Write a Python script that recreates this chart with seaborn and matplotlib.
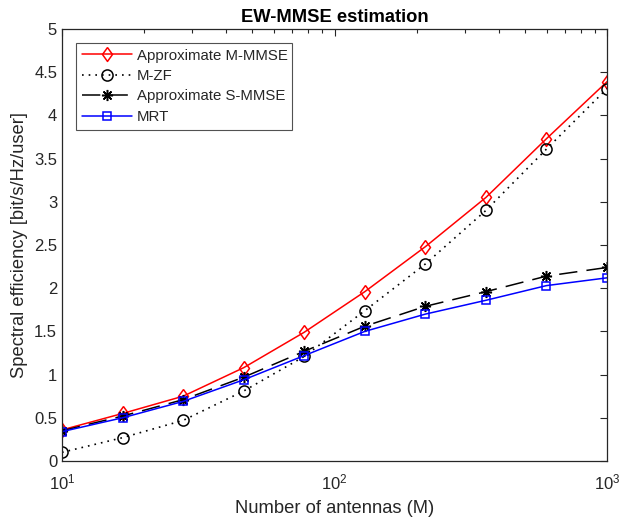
import numpy as np
import pandas as pd
import matplotlib
matplotlib.use("Agg")
import matplotlib.pyplot as plt
from matplotlib.ticker import LogLocator, FixedLocator, FuncFormatter
import seaborn as sns

# Number of BS antennas (log-spaced from 10 to 1000)
antennas = [10, 16.68, 27.83, 46.42, 77.43, 129.2, 215.4, 359.4, 599.5, 1000]

# Spectral efficiency per user [bit/s/Hz/user]
se_m_mmse = [0.36, 0.55, 0.75, 1.08, 1.49, 1.96, 2.48, 3.05, 3.73, 4.39]
se_m_zf = [0.10, 0.27, 0.47, 0.81, 1.21, 1.74, 2.28, 2.90, 3.61, 4.31]
se_s_mmse = [0.35, 0.52, 0.71, 0.97, 1.27, 1.56, 1.79, 1.96, 2.14, 2.24]
se_mrt = [0.34, 0.50, 0.69, 0.94, 1.22, 1.50, 1.70, 1.86, 2.03, 2.12]

series_names = ["Approximate M-MMSE", "M-ZF", "Approximate S-MMSE", "MRT"]

df = pd.DataFrame({
    "M": antennas * 4,
    "SE": se_m_mmse + se_m_zf + se_s_mmse + se_mrt,
    "scheme": np.repeat(series_names, len(antennas)),
})

sns.set_theme(style="white")
plt.rcParams["font.family"] = ["Liberation Sans", "DejaVu Sans"]
plt.rcParams["mathtext.fontset"] = "custom"
plt.rcParams["mathtext.rm"] = "Liberation Sans"
plt.rcParams["mathtext.it"] = "Liberation Sans:italic"

ink = "#262626"

# MATLAB-style diamond: a bit wider than matplotlib's thin diamond
diamond = [(0, 1), (0.72, 0), (0, -1), (-0.72, 0), (0, 1)]

styles = {
    "Approximate M-MMSE": dict(color="#ff0000", marker=diamond, markersize=10, linestyle="-", lw=1.1),
    "M-ZF": dict(color="black", marker="o", markersize=8, linestyle=(0, (1, 3)), lw=1.2),
    "Approximate S-MMSE": dict(color="black", marker=(8, 2, 0), markersize=8, linestyle=(0, (12, 6)), lw=1.1),
    "MRT": dict(color="#0000ff", marker="s", markersize=6, linestyle="-", lw=1.1),
}

fig = plt.figure(figsize=(6.21, 5.19), dpi=100)
ax = fig.add_axes([62 / 621, 1 - 461 / 519, 545 / 621, 432 / 519])

for name in series_names:
    st = styles[name]
    sub = df[df["scheme"] == name]
    sns.lineplot(
        data=sub, x="M", y="SE", ax=ax, label=name,
        color=st["color"], marker=st["marker"], markersize=st["markersize"],
        linestyle=st["linestyle"], linewidth=st["lw"],
        markerfacecolor="none", markeredgecolor=st["color"], markeredgewidth=1.1,
    )

for line in ax.lines:
    line.set_markerfacecolor("none")

ax.set_xscale("log")
ax.set_xlim(10, 1000)
ax.set_ylim(0, 5)
ax.yaxis.set_major_locator(FixedLocator(np.arange(0, 5.01, 0.5)))
ax.yaxis.set_major_formatter(FuncFormatter(lambda v, p: f"{v:g}"))
ax.xaxis.set_major_locator(LogLocator(base=10))
ax.xaxis.set_minor_locator(LogLocator(base=10, subs=np.arange(2, 10)))

ax.tick_params(which="both", direction="in", top=True, right=True,
               colors=ink, labelsize=12, width=0.8)
ax.tick_params(which="major", length=5)
ax.tick_params(which="minor", length=3)
ax.tick_params(axis="x", which="major", pad=8)
for s in ax.spines.values():
    s.set_color(ink)
    s.set_linewidth(0.9)

ax.set_xlabel("Number of antennas (M)", fontsize=13.2, color=ink, labelpad=6)
ax.set_ylabel("Spectral efficiency [bit/s/Hz/user]", fontsize=13.2, color=ink, labelpad=4)
ax.set_title("EW-MMSE estimation", fontsize=13.2, fontweight="bold", color="black", pad=5)

leg = ax.legend(
    loc="upper left", bbox_to_anchor=(14 / 545, 1 - 14 / 432, 216 / 545, 0.001),
    mode="expand", borderaxespad=0, fontsize=10.8, frameon=True, fancybox=False,
    handlelength=3.3, handletextpad=0.35, borderpad=0.4, labelspacing=0.43,
)
leg.get_frame().set_edgecolor(ink)
leg.get_frame().set_linewidth(0.8)
for t in leg.get_texts():
    t.set_color(ink)

fig.savefig("out.png", dpi=100)
